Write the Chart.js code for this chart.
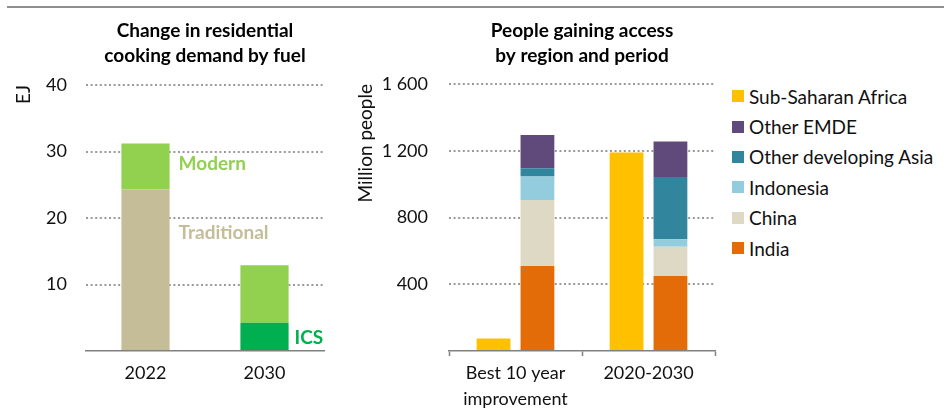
<!DOCTYPE html>
<html lang="en">
<head>
<meta charset="utf-8">
<title>Cooking demand and access</title>
<script src="https://cdn.jsdelivr.net/npm/chart.js@4.4.0/dist/chart.umd.min.js"></script>
<style>
  html, body { margin: 0; padding: 0; background: #fff; }
  body { width: 944px; height: 408px; position: relative; overflow: hidden; font-family: Lato, sans-serif; }
  #trait { position: absolute; left: 7px; right: 0; top: 6px; height: 2px; background: #8f8f8f; }
  #graphFuel { position: absolute; left: 0; top: 0; }
  #graphRegion { position: absolute; left: 340px; top: 0; }
  #legende { position: absolute; left: 732px; top: 81px; }
  .item { height: 30.4px; display: flex; align-items: center; font-size: 19px; color: #111; }
  .carre { width: 12px; height: 12px; margin-right: 5px; flex: none; }
</style>
</head>
<body>
<div id="trait"></div>
<canvas id="graphFuel" width="340" height="408"></canvas>
<canvas id="graphRegion" width="380" height="408"></canvas>
<div id="legende"></div>
<script>
// Demande de cuisson résidentielle par combustible (EJ)
const annees = ['2022', '2030'];
const traditionnel = [24.3, null];
const moderne = [6.9, 8.65];
const ics = [null, 4.25];
const ticksEJ = [0, 10, 20, 30, 40];

// Personnes gagnant l'accès, par région et période (millions)
const periodes = [['Best 10 year', 'improvement'], '2020-2030'];
const afriqueSub = [75, 1190];
const inde = [510, 450];
const chine = [395, 175];
const indonesie = [140, 45];
const autreAsie = [50, 372];
const autreEmde = [200, 214];
const ticksMillions = [0, 400, 800, 1200, 1600];

const police = 'Lato';
const grisGrille = '#9a9a9a';
const grisAxe = '#808080';

// Dessine le titre (deux lignes) et les étiquettes posées à côté des barres
const pluginTextes = {
    id: 'textes',
    afterDraw(chart, args, opts) {
        const {ctx, chartArea} = chart;
        ctx.save();
        ctx.textBaseline = 'middle';
        ctx.font = 'bold 19px ' + police;
        ctx.fillStyle = '#000';
        ctx.textAlign = 'center';
        const cx = (chartArea.left + chartArea.right) / 2;
        (opts.titre || []).forEach((ligne, i) => ctx.fillText(ligne, cx, 31 + i * 25));
        // Étiquettes de séries à droite des barres
        ctx.textAlign = 'left';
        const meta = chart.getDatasetMeta(0);
        const y = chart.scales.y;
        (opts.etiquettes || []).forEach(e => {
            const barre = meta.data[e.barre];
            ctx.fillStyle = e.couleur;
            ctx.fillText(e.texte, barre.x + barre.width / 2 + e.decalage, y.getPixelForValue(e.valeur));
        });
        ctx.restore();
    }
};

// Formate un nombre avec une espace pour les milliers
function formaterNombre(v) {
    if (v === 0) return '';
    return String(v).replace(/\B(?=(\d{3})+(?!\d))/g, ' ');
}

// Options d'axe Y communes aux deux graphiques
function axeY(max, pas, largeur, ecart, titre, decalageTitre) {
    return {
        min: 0,
        max: max,
        afterFit: s => { s.width = largeur; },
        afterBuildTicks: s => { s.ticks = (max === 40 ? ticksEJ : ticksMillions).map(v => ({value: v})); },
        grid: {
            drawTicks: false,
            lineWidth: 2,
            color: c => c.tick && c.tick.value === 0 ? 'rgba(0,0,0,0)' : grisGrille
        },
        border: {display: false, dash: [2, 2.6]},
        ticks: {
            stepSize: pas,
            padding: ecart,
            color: '#111',
            font: {family: police, size: 18},
            callback: v => formaterNombre(v)
        },
        title: {
            display: true,
            text: titre,
            align: 'end',
            color: '#111',
            font: {family: police, size: 19},
            padding: {top: decalageTitre, bottom: 0}
        }
    };
}

// Options d'axe X communes
function axeX(hauteur, avecTraits, ecart) {
    return {
        afterFit: s => { s.height = hauteur; },
        grid: {
            display: true,
            drawOnChartArea: false,
            drawTicks: avecTraits,
            tickLength: 5,
            tickWidth: 1.5,
            tickColor: grisAxe,
            offset: true
        },
        border: {display: true, color: grisAxe, width: 1.5},
        ticks: {
            padding: ecart,
            color: '#111',
            font: {family: police, size: 18, lineHeight: 1.4}
        }
    };
}

// Graphique de gauche : demande par combustible
function graphiqueCombustible() {
    const ctx = document.getElementById('graphFuel').getContext('2d');
    const commun = {stack: 'a', barPercentage: 0.405, categoryPercentage: 1, borderWidth: 0};
    new Chart(ctx, {
        type: 'bar',
        data: {
            labels: annees,
            datasets: [
                {label: 'ICS', data: ics, backgroundColor: '#00B050', ...commun},
                {label: 'Traditional', data: traditionnel, backgroundColor: '#C4BD97', ...commun},
                {label: 'Modern', data: moderne, backgroundColor: '#92D050', ...commun}
            ]
        },
        options: {
            responsive: false,
            animation: false,
            layout: {padding: {top: 85, right: 16, left: 0, bottom: 0}},
            plugins: {
                legend: {display: false},
                tooltip: {enabled: false},
                textes: {
                    titre: ['Change in residential', 'cooking demand by fuel'],
                    etiquettes: [
                        {texte: 'Modern', couleur: '#92D050', barre: 0, valeur: 28.2, decalage: 9},
                        {texte: 'Traditional', couleur: '#C4BD97', barre: 0, valeur: 17.7, decalage: 9},
                        {texte: 'ICS', couleur: '#00B050', barre: 1, valeur: 2, decalage: 6}
                    ]
                }
            },
            scales: {
                x: {...axeX(57, false, 10), stacked: true},
                y: {...axeY(40, 10, 86, 19, 'EJ', 12), stacked: true}
            }
        },
        plugins: [pluginTextes]
    });
}

// Graphique de droite : accès par région et période
function graphiqueRegions() {
    const ctx = document.getElementById('graphRegion').getContext('2d');
    const series = [
        {label: 'India', data: inde, couleur: '#E36C09'},
        {label: 'China', data: chine, couleur: '#DDD9C4'},
        {label: 'Indonesia', data: indonesie, couleur: '#93CDDD'},
        {label: 'Other developing Asia', data: autreAsie, couleur: '#31859C'},
        {label: 'Other EMDE', data: autreEmde, couleur: '#604A7B'}
    ];
    const commun = {barPercentage: 0.77, categoryPercentage: 0.66, borderWidth: 0};
    const datasets = [{label: 'Sub-Saharan Africa', data: afriqueSub, backgroundColor: '#FFC000', stack: 'afrique', ...commun}];
    series.forEach(s => datasets.push({label: s.label, data: s.data, backgroundColor: s.couleur, stack: 'autres', ...commun}));
    new Chart(ctx, {
        type: 'bar',
        data: {labels: periodes, datasets: datasets},
        options: {
            responsive: false,
            animation: false,
            layout: {padding: {top: 84, right: 5, left: 0, bottom: 0}},
            plugins: {
                legend: {display: false},
                tooltip: {enabled: false},
                textes: {titre: ['People gaining access', 'by region and period']}
            },
            scales: {
                x: {...axeX(57, true, 5), stacked: true},
                y: {...axeY(1600, 400, 109, 21, 'Million people', 14), stacked: true}
            }
        },
        plugins: [pluginTextes]
    });
    // Légende construite à partir des séries, dans l'ordre affiché
    const ordre = [datasets[0], datasets[5], datasets[4], datasets[3], datasets[2], datasets[1]];
    const leg = document.getElementById('legende');
    ordre.forEach(d => {
        const item = document.createElement('div');
        item.className = 'item';
        item.innerHTML = '<span class="carre" style="background:' + d.backgroundColor + '"></span>' + d.label;
        leg.appendChild(item);
    });
}

graphiqueCombustible();
graphiqueRegions();
</script>
</body>
</html>
